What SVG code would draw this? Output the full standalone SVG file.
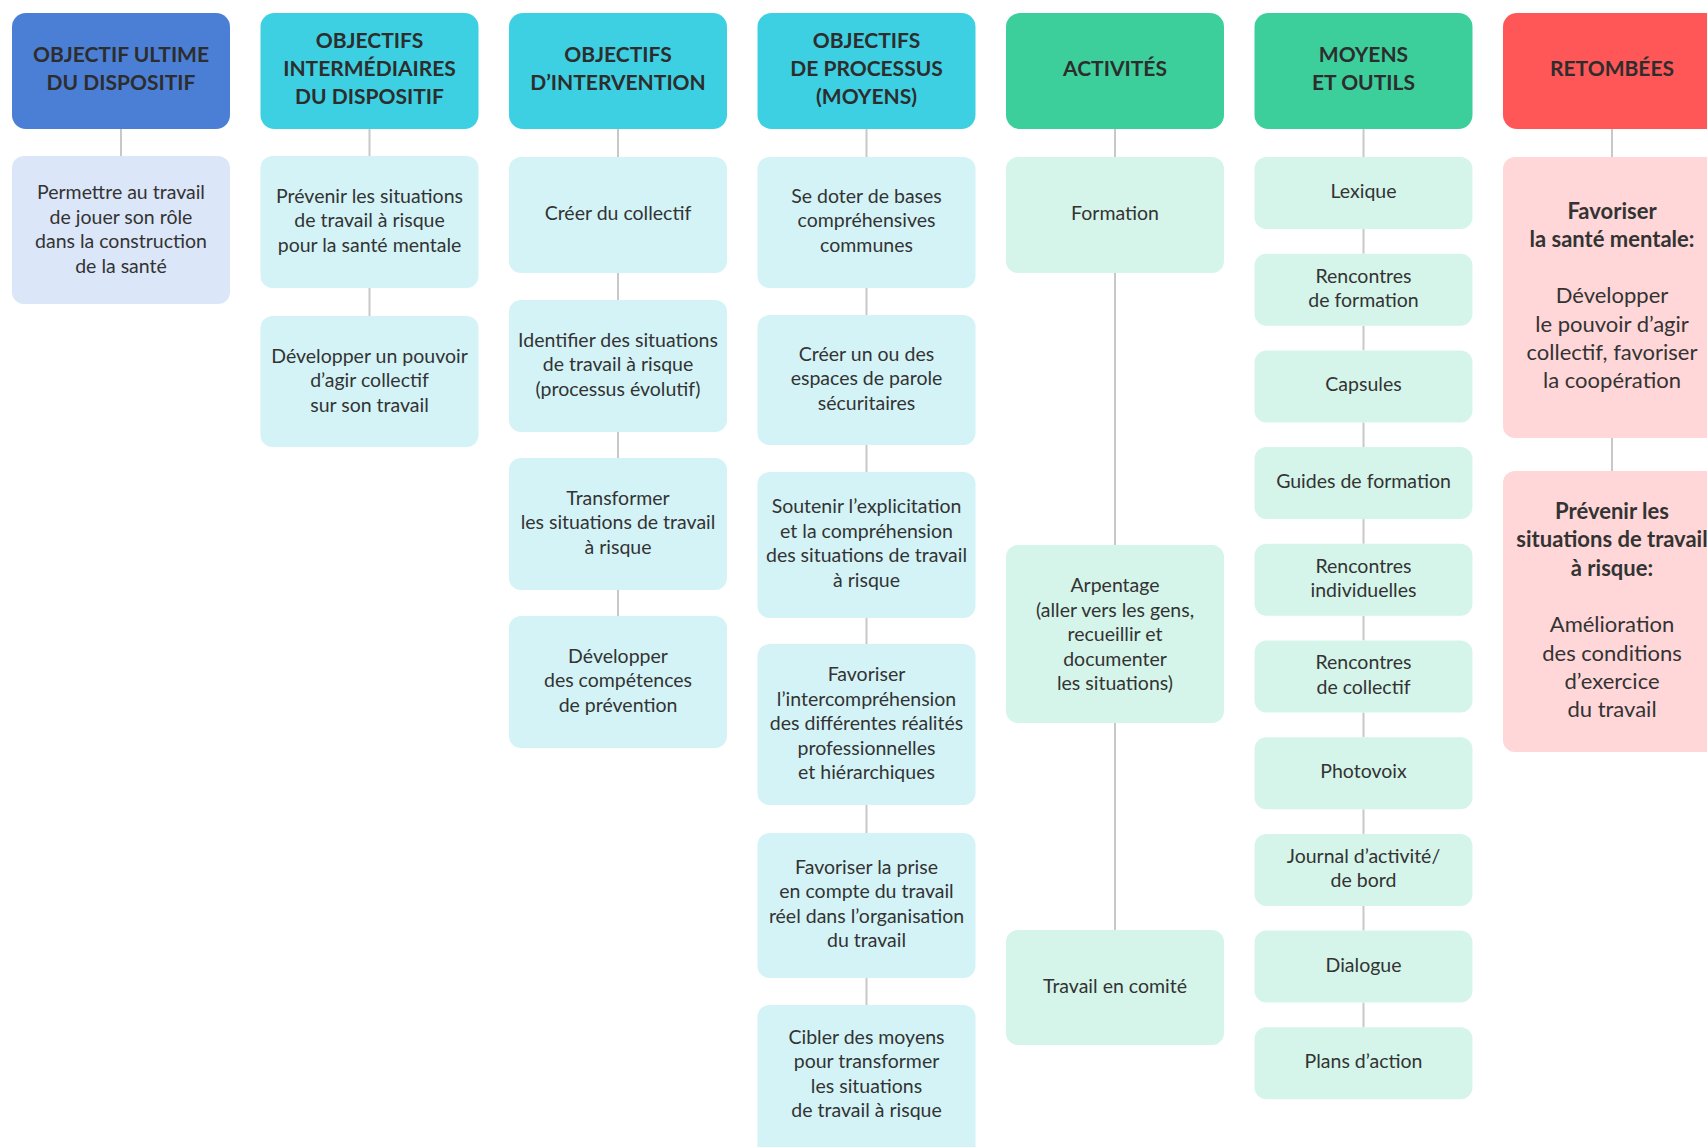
<svg xmlns="http://www.w3.org/2000/svg" width="1707" height="1147" viewBox="0 0 1707 1147">
<style>
.hd{stroke:none}
.hb{fill:#4b7fd6}.hc{fill:#3dd0e2}.hg{fill:#3ccf9c}.hr{fill:#ff5757}
.bb{fill:#dbe6f8}.bc{fill:#d4f3f7}.bg{fill:#d5f5ea}.br{fill:#ffd7d8}
.ht{font-family:Lato,"Open Sans","Liberation Sans",sans-serif;font-weight:700;font-size:21px;fill:#2d2d2d;text-anchor:middle}
.t{font-family:Lato,"Open Sans","Liberation Sans",sans-serif;font-size:19.5px;fill:#333;text-anchor:middle}
.r{font-family:Lato,"Open Sans","Liberation Sans",sans-serif;font-size:22px;fill:#333;text-anchor:middle}
.rb{font-weight:700}
.cn line{stroke:#c8c8c8;stroke-width:2}
</style>
<rect width="1707" height="1147" fill="#ffffff"/>
<g class="cn" id="connectors">
<line x1="121" y1="129" x2="121" y2="156"/>
<line x1="369.5" y1="129" x2="369.5" y2="156"/>
<line x1="369.5" y1="288" x2="369.5" y2="316"/>
<line x1="618" y1="129" x2="618" y2="157"/>
<line x1="618" y1="273" x2="618" y2="300"/>
<line x1="618" y1="432" x2="618" y2="458"/>
<line x1="618" y1="590" x2="618" y2="616"/>
<line x1="866.5" y1="129" x2="866.5" y2="157"/>
<line x1="866.5" y1="288" x2="866.5" y2="315"/>
<line x1="866.5" y1="445" x2="866.5" y2="472"/>
<line x1="866.5" y1="618" x2="866.5" y2="644"/>
<line x1="866.5" y1="805" x2="866.5" y2="833"/>
<line x1="866.5" y1="978" x2="866.5" y2="1005"/>
<line x1="1115" y1="129" x2="1115" y2="157"/>
<line x1="1115" y1="273" x2="1115" y2="545"/>
<line x1="1115" y1="723" x2="1115" y2="930"/>
<line x1="1363.5" y1="129" x2="1363.5" y2="157"/>
<line x1="1363.5" y1="229" x2="1363.5" y2="253.7"/>
<line x1="1363.5" y1="325.7" x2="1363.5" y2="350.4"/>
<line x1="1363.5" y1="422.4" x2="1363.5" y2="447.1"/>
<line x1="1363.5" y1="519.1" x2="1363.5" y2="543.8"/>
<line x1="1363.5" y1="615.8" x2="1363.5" y2="640.5"/>
<line x1="1363.5" y1="712.5" x2="1363.5" y2="737.2"/>
<line x1="1363.5" y1="809.2" x2="1363.5" y2="833.9"/>
<line x1="1363.5" y1="905.9" x2="1363.5" y2="930.6"/>
<line x1="1363.5" y1="1002.6" x2="1363.5" y2="1027.3"/>
<line x1="1612" y1="129" x2="1612" y2="157"/>
<line x1="1612" y1="438" x2="1612" y2="471"/>
</g>

<!-- Column 1 -->
<g id="h1"><rect class="hb" x="12" y="13" width="218" height="116" rx="14"/>
<text class="ht" x="121" y="61.9">OBJECTIF ULTIME</text><text class="ht" x="121" y="90.2">DU DISPOSITIF</text></g>
<g id="c1b1"><rect class="bb" x="12" y="156" width="218" height="148" rx="12"/>
<text class="t" x="121" y="199.3">Permettre au travail</text><text class="t" x="121" y="223.8">de jouer son rôle</text><text class="t" x="121" y="248.3">dans la construction</text><text class="t" x="121" y="272.8">de la santé</text></g>

<!-- Column 2 -->
<g id="h2"><rect class="hc" x="260.5" y="13" width="218" height="116" rx="14"/>
<text class="ht" x="369.5" y="47.8">OBJECTIFS</text><text class="ht" x="369.5" y="76.1">INTERMÉDIAIRES</text><text class="ht" x="369.5" y="104.4">DU DISPOSITIF</text></g>
<g id="c2b1"><rect class="bc" x="260.5" y="156" width="218" height="132" rx="12"/>
<text class="t" x="369.5" y="202.5">Prévenir les situations</text><text class="t" x="369.5" y="227">de travail à risque</text><text class="t" x="369.5" y="251.5">pour la santé mentale</text></g>
<g id="c2b2"><rect class="bc" x="260.5" y="316" width="218" height="131" rx="12"/>
<text class="t" x="369.5" y="362.5">Développer un pouvoir</text><text class="t" x="369.5" y="387">d’agir collectif</text><text class="t" x="369.5" y="411.5">sur son travail</text></g>

<!-- Column 3 -->
<g id="h3"><rect class="hc" x="509" y="13" width="218" height="116" rx="14"/>
<text class="ht" x="618" y="61.9">OBJECTIFS</text><text class="ht" x="618" y="90.2">D’INTERVENTION</text></g>
<g id="c3b1"><rect class="bc" x="509" y="157" width="218" height="116" rx="12"/>
<text class="t" x="618" y="220">Créer du collectif</text></g>
<g id="c3b2"><rect class="bc" x="509" y="300" width="218" height="132" rx="12"/>
<text class="t" x="618" y="346.5">Identifier des situations</text><text class="t" x="618" y="371">de travail à risque</text><text class="t" x="618" y="395.5">(processus évolutif)</text></g>
<g id="c3b3"><rect class="bc" x="509" y="458" width="218" height="132" rx="12"/>
<text class="t" x="618" y="504.5">Transformer</text><text class="t" x="618" y="529">les situations de travail</text><text class="t" x="618" y="553.5">à risque</text></g>
<g id="c3b4"><rect class="bc" x="509" y="616" width="218" height="132" rx="12"/>
<text class="t" x="618" y="662.5">Développer</text><text class="t" x="618" y="687">des compétences</text><text class="t" x="618" y="711.5">de prévention</text></g>

<!-- Column 4 -->
<g id="h4"><rect class="hc" x="757.5" y="13" width="218" height="116" rx="14"/>
<text class="ht" x="866.5" y="47.8">OBJECTIFS</text><text class="ht" x="866.5" y="76.1">DE PROCESSUS</text><text class="ht" x="866.5" y="104.4">(MOYENS)</text></g>
<g id="c4b1"><rect class="bc" x="757.5" y="157" width="218" height="131" rx="12"/>
<text class="t" x="866.5" y="202.5">Se doter de bases</text><text class="t" x="866.5" y="227">compréhensives</text><text class="t" x="866.5" y="251.5">communes</text></g>
<g id="c4b2"><rect class="bc" x="757.5" y="315" width="218" height="130" rx="12"/>
<text class="t" x="866.5" y="360.5">Créer un ou des</text><text class="t" x="866.5" y="385">espaces de parole</text><text class="t" x="866.5" y="409.5">sécuritaires</text></g>
<g id="c4b3"><rect class="bc" x="757.5" y="472" width="218" height="146" rx="12"/>
<text class="t" x="866.5" y="513.3">Soutenir l’explicitation</text><text class="t" x="866.5" y="537.8">et la compréhension</text><text class="t" x="866.5" y="562.3">des situations de travail</text><text class="t" x="866.5" y="586.8">à risque</text></g>
<g id="c4b4"><rect class="bc" x="757.5" y="644" width="218" height="161" rx="12"/>
<text class="t" x="866.5" y="681">Favoriser</text><text class="t" x="866.5" y="705.5">l’intercompréhension</text><text class="t" x="866.5" y="730">des différentes réalités</text><text class="t" x="866.5" y="754.5">professionnelles</text><text class="t" x="866.5" y="779">et hiérarchiques</text></g>
<g id="c4b5"><rect class="bc" x="757.5" y="833" width="218" height="145" rx="12"/>
<text class="t" x="866.5" y="873.5">Favoriser la prise</text><text class="t" x="866.5" y="898">en compte du travail</text><text class="t" x="866.5" y="922.5">réel dans l’organisation</text><text class="t" x="866.5" y="947">du travail</text></g>
<g id="c4b6"><rect class="bc" x="757.5" y="1005" width="218" height="160" rx="12"/>
<text class="t" x="866.5" y="1043.5">Cibler des moyens</text><text class="t" x="866.5" y="1068">pour transformer</text><text class="t" x="866.5" y="1092.5">les situations</text><text class="t" x="866.5" y="1117">de travail à risque</text></g>

<!-- Column 5 -->
<g id="h5"><rect class="hg" x="1006" y="13" width="218" height="116" rx="14"/>
<text class="ht" x="1115" y="76.1">ACTIVITÉS</text></g>
<g id="c5b1"><rect class="bg" x="1006" y="157" width="218" height="116" rx="12"/>
<text class="t" x="1115" y="220">Formation</text></g>
<g id="c5b2"><rect class="bg" x="1006" y="545" width="218" height="178" rx="12"/>
<text class="t" x="1115" y="592">Arpentage</text><text class="t" x="1115" y="616.5">(aller vers les gens,</text><text class="t" x="1115" y="641">recueillir et</text><text class="t" x="1115" y="665.5">documenter</text><text class="t" x="1115" y="690">les situations)</text></g>
<g id="c5b3"><rect class="bg" x="1006" y="930" width="218" height="115" rx="12"/>
<text class="t" x="1115" y="993">Travail en comité</text></g>

<!-- Column 6 -->
<g id="h6"><rect class="hg" x="1254.5" y="13" width="218" height="116" rx="14"/>
<text class="ht" x="1363.5" y="61.9">MOYENS</text><text class="ht" x="1363.5" y="90.2">ET OUTILS</text></g>
<g id="c6b1"><rect class="bg" x="1254.5" y="157" width="218" height="72" rx="12"/>
<text class="t" x="1363.5" y="198">Lexique</text></g>
<g id="c6b2"><rect class="bg" x="1254.5" y="253.7" width="218" height="72" rx="12"/>
<text class="t" x="1363.5" y="282.5">Rencontres</text><text class="t" x="1363.5" y="307">de formation</text></g>
<g id="c6b3"><rect class="bg" x="1254.5" y="350.4" width="218" height="72" rx="12"/>
<text class="t" x="1363.5" y="391.4">Capsules</text></g>
<g id="c6b4"><rect class="bg" x="1254.5" y="447.1" width="218" height="72" rx="12"/>
<text class="t" x="1363.5" y="488.1">Guides de formation</text></g>
<g id="c6b5"><rect class="bg" x="1254.5" y="543.8" width="218" height="72" rx="12"/>
<text class="t" x="1363.5" y="572.5">Rencontres</text><text class="t" x="1363.5" y="597">individuelles</text></g>
<g id="c6b6"><rect class="bg" x="1254.5" y="640.5" width="218" height="72" rx="12"/>
<text class="t" x="1363.5" y="669.2">Rencontres</text><text class="t" x="1363.5" y="693.7">de collectif</text></g>
<g id="c6b7"><rect class="bg" x="1254.5" y="737.2" width="218" height="72" rx="12"/>
<text class="t" x="1363.5" y="778.2">Photovoix</text></g>
<g id="c6b8"><rect class="bg" x="1254.5" y="833.9" width="218" height="72" rx="12"/>
<text class="t" x="1363.5" y="862.6">Journal d’activité/</text><text class="t" x="1363.5" y="887.1">de bord</text></g>
<g id="c6b9"><rect class="bg" x="1254.5" y="930.6" width="218" height="72" rx="12"/>
<text class="t" x="1363.5" y="971.6">Dialogue</text></g>
<g id="c6b10"><rect class="bg" x="1254.5" y="1027.3" width="218" height="72" rx="12"/>
<text class="t" x="1363.5" y="1068.3">Plans d’action</text></g>

<!-- Column 7 -->
<g id="h7"><rect class="hr" x="1503" y="13" width="218" height="116" rx="14"/>
<text class="ht" x="1612" y="76.1">RETOMBÉES</text></g>
<g id="c7b1"><rect class="br" x="1503" y="157" width="218" height="281" rx="12"/>
<text class="r rb" x="1612" y="218.5">Favoriser</text><text class="r rb" x="1612" y="246.8">la santé mentale:</text><text class="r" x="1612" y="303.4">Développer</text><text class="r" x="1612" y="331.7">le pouvoir d’agir</text><text class="r" x="1612" y="360">collectif, favoriser</text><text class="r" x="1612" y="388.3">la coopération</text></g>
<g id="c7b2"><rect class="br" x="1503" y="471" width="218" height="281" rx="12"/>
<text class="r rb" x="1612" y="519">Prévenir les</text><text class="r rb" x="1612" y="547.3">situations de travail</text><text class="r rb" x="1612" y="575.6">à risque:</text><text class="r" x="1612" y="632.2">Amélioration</text><text class="r" x="1612" y="660.5">des conditions</text><text class="r" x="1612" y="688.8">d’exercice</text><text class="r" x="1612" y="717.1">du travail</text></g>
</svg>
